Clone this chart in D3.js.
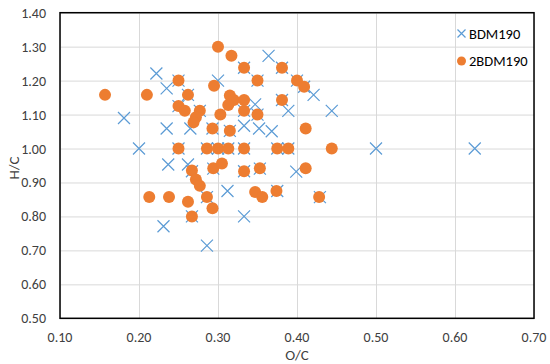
<!DOCTYPE html>
<html>
<head>
<meta charset="utf-8">
<script src="https://d3js.org/d3.v7.min.js"></script>
<style>
  body { margin: 0; background: #fff; }
  text { font-family: Carlito, Calibri, Lato, "Open Sans", sans-serif; }
</style>
</head>
<body>
<svg width="550" height="364"></svg>
<script>
  // BDM190 (crosses), O/C and H/C
  var bdmOC = [0.222,0.235,0.364,0.300,0.181,0.235,0.265,0.200,0.347,0.389,0.333,0.352,0.368,0.237,0.262,0.399,0.421,0.444,0.500,0.625,0.312,0.333,0.231,0.286,
               0.250,0.262,0.250,0.277,0.350,0.381,0.350,0.333,0.293,0.315,0.250,0.286,0.300,0.313,0.333,0.375,0.389,0.267,0.294,0.333,0.353,0.267,0.286,0.375,0.429,0.400,0.409,0.381,0.333];
  var bdmHC = [1.221,1.177,1.273,1.200,1.090,1.059,1.059,1.000,1.130,1.111,1.067,1.059,1.051,0.953,0.953,0.932,1.158,1.111,1.000,1.000,0.875,0.800,0.771,0.714,
               1.200,1.158,1.125,1.111,1.200,1.143,1.100,1.111,1.059,1.052,1.000,1.000,1.000,1.000,1.000,1.000,1.000,0.933,0.941,0.933,0.941,0.800,0.857,0.875,0.857,1.200,1.182,1.238,1.238];

  // 2BDM190 (circles)
  var bdm2OC = [0.157,0.210,0.250,0.262,0.250,0.258,0.277,0.272,0.269,0.295,0.300,0.317,0.333,0.350,0.381,0.400,0.409,0.315,0.320,0.333,0.313,0.333,0.350,0.303,0.381,0.411,0.293,0.315,
                0.250,0.286,0.300,0.313,0.333,0.375,0.389,0.444,
                0.267,0.272,0.277,0.286,0.293,0.294,0.305,0.333,0.353,0.411,0.213,0.238,0.262,0.267,0.347,0.356,0.374,0.428];
  var bdm2HC = [1.158,1.158,1.200,1.158,1.125,1.111,1.111,1.092,1.077,1.185,1.300,1.273,1.238,1.200,1.238,1.200,1.182,1.156,1.143,1.143,1.128,1.111,1.100,1.100,1.143,1.059,1.059,1.052,
                1.000,1.000,1.000,1.000,1.000,1.000,1.000,1.000,
                0.935,0.909,0.890,0.857,0.824,0.942,0.956,0.933,0.942,0.942,0.857,0.857,0.843,0.800,0.872,0.857,0.875,0.857];

  var xTicks = [0.1,0.2,0.3,0.4,0.5,0.6,0.7];
  var yTicks = [0.5,0.6,0.7,0.8,0.9,1.0,1.1,1.2,1.3,1.4];

  var svg = d3.select("svg"),
    pLeft = 60, pRight = 534, pTop = 12.7, pBottom = 318.3;

  var xscale = d3.scaleLinear().domain([0.1,0.7]).range([pLeft,pRight]);
  var yscale = d3.scaleLinear().domain([0.5,1.4]).range([pBottom,pTop]);

  // grid
  var gGrid = svg.append("g");
  gGrid.append("g")
    .attr("transform","translate(0,"+pBottom+")")
    .call(d3.axisBottom(xscale).tickValues(xTicks).tickSize(-(pBottom-pTop)).tickFormat(""))
    .call(function(g){ g.select(".domain").remove(); g.selectAll("line").attr("stroke","#d9d9d9"); });
  gGrid.append("g")
    .attr("transform","translate("+pLeft+",0)")
    .call(d3.axisLeft(yscale).tickValues(yTicks).tickSize(-(pRight-pLeft)).tickFormat(""))
    .call(function(g){ g.select(".domain").remove(); g.selectAll("line").attr("stroke","#d9d9d9"); });

  // tick labels
  svg.append("g").selectAll("text")
    .data(xTicks).enter().append("text")
    .attr("x",function(d){return xscale(d)})
    .attr("y",342)
    .attr("text-anchor","middle")
    .attr("font-size",14)
    .attr("fill","#404040")
    .text(function(d){return d.toFixed(2)});
  svg.append("g").selectAll("text")
    .data(yTicks).enter().append("text")
    .attr("x",46)
    .attr("y",function(d){return yscale(d)+5})
    .attr("text-anchor","end")
    .attr("font-size",14)
    .attr("fill","#404040")
    .text(function(d){return d.toFixed(2)});

  // axis titles
  svg.append("text").attr("x",(pLeft+pRight)/2).attr("y",360)
    .attr("text-anchor","middle").attr("font-size",15).attr("fill","#404040").text("O/C");
  svg.append("text").attr("transform","translate(19,168) rotate(-90)")
    .attr("text-anchor","middle").attr("font-size",15).attr("fill","#404040").text("H/C");

  // crosses
  var cross = function(g, x, y, s) {
    g.append("path")
      .attr("d","M"+(x-s)+","+(y-s)+"L"+(x+s)+","+(y+s)+"M"+(x-s)+","+(y+s)+"L"+(x+s)+","+(y-s))
      .attr("stroke","#5b9bd5").attr("stroke-width",1.2).attr("fill","none");
  };
  var gBDM = svg.append("g");
  bdmOC.forEach(function(d,i){ cross(gBDM, xscale(d), yscale(bdmHC[i]), 6); });

  // circles
  svg.append("g").selectAll("circle")
    .data(bdm2OC).enter().append("circle")
    .attr("cx",function(d){return xscale(d)})
    .attr("cy",function(d,i){return yscale(bdm2HC[i])})
    .attr("r",6)
    .attr("fill","#ed7d31");

  // plot border
  svg.append("rect")
    .attr("x",pLeft).attr("y",pTop)
    .attr("width",pRight-pLeft).attr("height",pBottom-pTop)
    .attr("fill","none").attr("stroke","#000").attr("stroke-width",1.5);

  // legend
  var gLeg = svg.append("g");
  cross(gLeg, 461.5, 33.5, 4);
  gLeg.append("text").attr("x",469).attr("y",38.5).attr("font-size",14.5).attr("fill","#000").text("BDM190");
  gLeg.append("circle").attr("cx",461.5).attr("cy",61).attr("r",4.5).attr("fill","#ed7d31");
  gLeg.append("text").attr("x",469).attr("y",66).attr("font-size",14.5).attr("fill","#000").text("2BDM190");
</script>
</body>
</html>
